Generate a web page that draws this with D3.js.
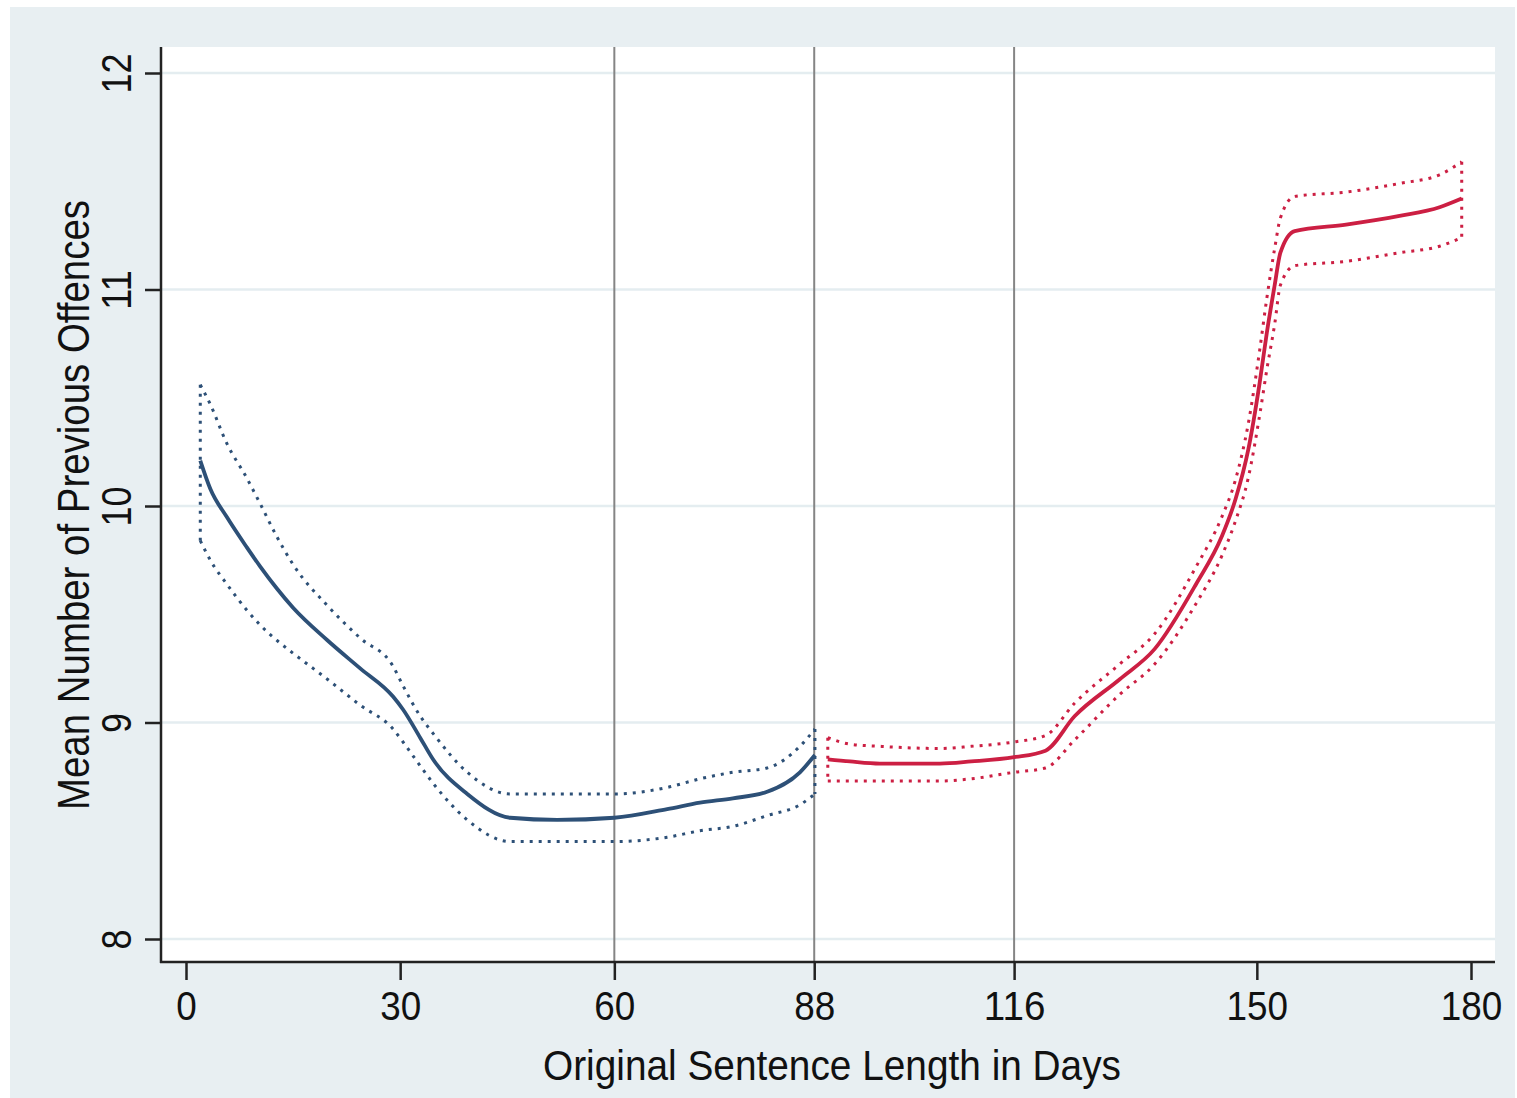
<!DOCTYPE html>
<html>
<head>
<meta charset="utf-8">
<script src="https://cdn.jsdelivr.net/npm/d3@7"></script>
<style>
  body { margin: 0; background: #fff; }
  svg text { font-family: "Liberation Sans", Arial, sans-serif; fill: #111; }
</style>
</head>
<body>
<svg id="chart" width="1517" height="1098"></svg>
<script>
// values
var xTicks = [0, 30, 60, 88, 116, 150, 180];
var yTicks = [8, 9, 10, 11, 12];
var cutoffDays = [60, 88, 116];

// below 88 days (blue)
var blueDays  = [2, 3.4, 5.7, 8.5, 10.4, 12.7, 15, 19.8, 24.4, 29, 30.4, 32.8, 34.6, 39.4, 45.4, 52, 60, 67.4, 72, 76.6, 81.4, 86, 88.1];
var blueMean  = [10.21, 10.08, 9.95, 9.81, 9.72, 9.62, 9.53, 9.38, 9.25, 9.12, 9.06, 8.93, 8.83, 8.67, 8.56, 8.55, 8.56, 8.60, 8.63, 8.65, 8.68, 8.77, 8.85];
var blueUpper = [10.56, 10.47, 10.29, 10.13, 10.01, 9.86, 9.73, 9.54, 9.39, 9.26, 9.17, 9.03, 8.95, 8.77, 8.67, 8.67, 8.67, 8.70, 8.74, 8.77, 8.79, 8.89, 8.97];
var blueLower = [9.84, 9.75, 9.64, 9.52, 9.45, 9.38, 9.32, 9.20, 9.08, 8.97, 8.91, 8.80, 8.72, 8.55, 8.45, 8.45, 8.45, 8.47, 8.50, 8.52, 8.57, 8.62, 8.67];

// above 88 days (red)
var redDays  = [89.9, 93, 97.2, 105.6, 110, 116, 120.4, 124.5, 130.8, 135.7, 141.5, 145.1, 147, 148.8, 150.4, 151.4, 152.5, 153.3, 155.3, 162.5, 170, 175.6, 178.7];
var redMean  = [8.83, 8.82, 8.81, 8.81, 8.82, 8.84, 8.87, 9.03, 9.20, 9.34, 9.64, 9.86, 10.03, 10.26, 10.57, 10.80, 11.02, 11.17, 11.27, 11.30, 11.34, 11.38, 11.42];
var redUpper = [8.93, 8.90, 8.89, 8.88, 8.89, 8.91, 8.94, 9.09, 9.27, 9.41, 9.72, 9.95, 10.12, 10.38, 10.72, 10.96, 11.19, 11.33, 11.43, 11.45, 11.49, 11.53, 11.59];
var redLower = [8.73, 8.73, 8.73, 8.73, 8.74, 8.77, 8.79, 8.92, 9.13, 9.27, 9.55, 9.77, 9.93, 10.13, 10.42, 10.63, 10.84, 11.02, 11.11, 11.13, 11.17, 11.20, 11.24];

var svg = d3.select('#chart');

// plot box
var box = {left: 161, right: 1495, top: 47, bottom: 962};

var x = d3.scaleLinear().domain([0, 180]).range([186, 1471]);
var y = d3.scaleLinear().domain([8, 12]).range([939, 73]);

// graph region background
svg.append('rect')
  .attr('x', 10).attr('y', 7)
  .attr('width', 1505).attr('height', 1091)
  .attr('fill', '#e8eff2');

svg.append('rect')
  .attr('x', box.left).attr('y', box.top)
  .attr('width', box.right - box.left).attr('height', box.bottom - box.top)
  .attr('fill', '#fff');

// horizontal grid
svg.selectAll('.grid')
  .data(yTicks)
  .enter().append('line')
  .attr('class', 'grid')
  .attr('x1', box.left).attr('x2', box.right)
  .attr('y1', function(d){ return y(d); })
  .attr('y2', function(d){ return y(d); })
  .attr('stroke', '#e4edf0')
  .attr('stroke-width', 2.5);

// reference lines
svg.selectAll('.cut')
  .data(cutoffDays)
  .enter().append('line')
  .attr('class', 'cut')
  .attr('x1', function(d){ return x(d); })
  .attr('x2', function(d){ return x(d); })
  .attr('y1', box.top).attr('y2', box.bottom)
  .attr('stroke', '#858585')
  .attr('stroke-width', 2);

function drawSeries(days, mean, upper, lower, color) {
  var line = d3.line()
    .x(function(d){ return x(d[0]); })
    .y(function(d){ return y(d[1]); })
    .curve(d3.curveMonotoneX);

  var up = days.map(function(d, i){ return [d, upper[i]]; });
  var lo = days.map(function(d, i){ return [d, lower[i]]; });
  var n = days.length - 1;

  // CI band outline, dotted, closed at both ends
  [up, lo].forEach(function(pts){
    svg.append('path')
      .attr('d', line(pts))
      .attr('fill', 'none')
      .attr('stroke', color)
      .attr('stroke-width', 3)
      .attr('stroke-dasharray', '3,6');
  });
  [[up[0], lo[0]], [up[n], lo[n]]].forEach(function(pts){
    svg.append('line')
      .attr('x1', x(pts[0][0])).attr('y1', y(pts[0][1]))
      .attr('x2', x(pts[1][0])).attr('y2', y(pts[1][1]))
      .attr('stroke', color)
      .attr('stroke-width', 3)
      .attr('stroke-dasharray', '3,6');
  });

  svg.append('path')
    .attr('d', line(days.map(function(d, i){ return [d, mean[i]]; })))
    .attr('fill', 'none')
    .attr('stroke', color)
    .attr('stroke-width', 3.8);
}

drawSeries(blueDays, blueMean, blueUpper, blueLower, '#2d5077');
drawSeries(redDays, redMean, redUpper, redLower, '#cc1f43');

// axes
var yAxis = svg.append('g')
  .attr('transform', 'translate(' + box.left + ',0)')
  .call(d3.axisLeft(y).tickValues(yTicks).tickSize(16).tickFormat(d3.format('d')));

var xAxis = svg.append('g')
  .attr('transform', 'translate(0,' + box.bottom + ')')
  .call(d3.axisBottom(x).tickValues(xTicks).tickSize(18).tickFormat(d3.format('d')));

[xAxis, yAxis].forEach(function(g){
  g.select('.domain').remove();
  g.selectAll('.tick line').attr('stroke', '#222').attr('stroke-width', 2.5);
});

yAxis.selectAll('.tick text')
  .attr('x', 0).attr('y', 0).attr('dy', 0)
  .attr('text-anchor', 'middle')
  .attr('transform', 'translate(-30,0) rotate(-90)')
  .style('font-size', '42px')
  .attr('textLength', function(d){ return String(d).length * 20; })
  .attr('lengthAdjust', 'spacingAndGlyphs');

xAxis.selectAll('.tick text')
  .attr('y', 58).attr('dy', 0)
  .style('font-size', '40px')
  .attr('textLength', function(d){ return String(d).length * 20.5; })
  .attr('lengthAdjust', 'spacingAndGlyphs');

// frame lines (left and bottom)
svg.append('line')
  .attr('x1', box.left).attr('x2', box.left)
  .attr('y1', box.top).attr('y2', box.bottom + 1)
  .attr('stroke', '#222').attr('stroke-width', 2.5);
svg.append('line')
  .attr('x1', box.left - 1).attr('x2', box.right)
  .attr('y1', box.bottom).attr('y2', box.bottom)
  .attr('stroke', '#222').attr('stroke-width', 2.5);

// titles
svg.append('text')
  .attr('x', 832).attr('y', 1080)
  .attr('text-anchor', 'middle')
  .style('font-size', '42px')
  .attr('textLength', 578)
  .attr('lengthAdjust', 'spacingAndGlyphs')
  .text('Original Sentence Length in Days');

svg.append('text')
  .attr('transform', 'translate(89,505) rotate(-90)')
  .attr('text-anchor', 'middle')
  .style('font-size', '45px')
  .attr('textLength', 610)
  .attr('lengthAdjust', 'spacingAndGlyphs')
  .text('Mean Number of Previous Offences');
</script>
</body>
</html>
